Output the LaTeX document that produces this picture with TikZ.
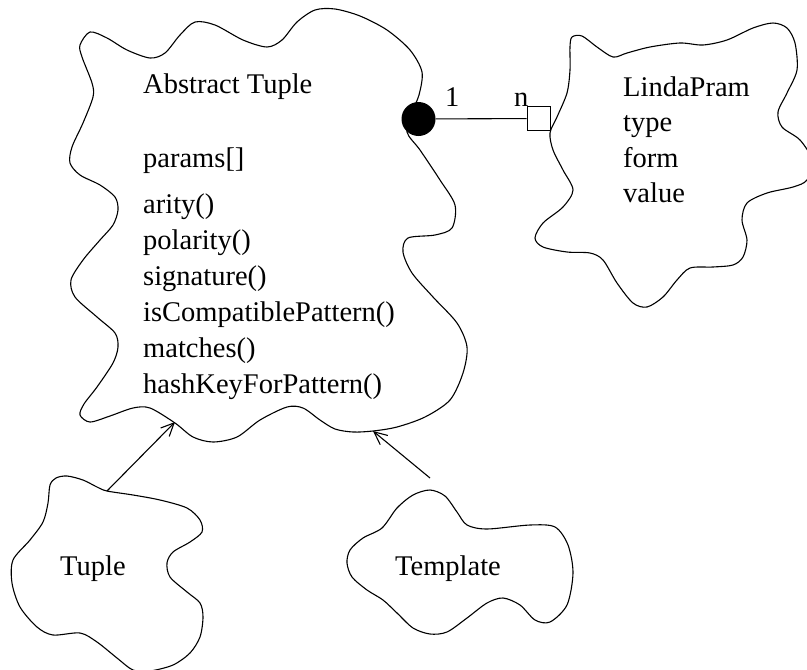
\documentclass[tikz,border=0pt]{standalone}
\usepackage{fontspec}
\setmainfont{Liberation Serif}
\usetikzlibrary{arrows.meta}
\begin{document}
\begin{tikzpicture}[x=1pt,y=-1pt,
  outline/.style={draw=black,line width=1.1pt},
  lbl/.style={anchor=base west,inner sep=0pt,font=\fontsize{28.5}{34}\selectfont},
  inherit/.style={draw,line width=1.1pt,-{Straight Barb[length=13pt,width=12pt]}},
  conn/.style={draw,line width=1.1pt}]
\fill[white] (0,0) rectangle (807,670);
\useasboundingbox (0,0) rectangle (807,670);

% Abstract Tuple cloud
\draw[outline] plot[smooth cycle] coordinates {
(80,45) (90,32) (107,38) (127,50) (150,58) (165,53) (180,35) (195,22) (215,25)
(243,40) (267,47) (282,40) (297,22) (315,10) (335,9) (360,16) (387,30) (410,50)
(422,72) (419,95) (412,112) (407,132) (420,150) (440,180) (455,205) (452,228)
(435,235) (408,238) (403,252) (412,273) (433,297) (457,323) (467,347) (463,373)
(450,400) (425,417) (397,427) (373,431) (353,432) (335,429) (320,420) (303,408)
(287,407) (260,420) (237,437) (213,442) (193,437) (175,423) (150,408) (133,408)
(110,416) (90,422) (80,415) (84,404) (97,387) (113,363) (118,347) (115,333)
(97,317) (75,297) (71,280) (83,260) (100,240) (113,225) (118,210) (115,197)
(100,185) (80,175) (70,163) (72,147) (83,123) (93,97) (92,83) (82,57)};

% LindaPram cloud
\draw[outline] plot[smooth cycle] coordinates {
(572,37) (582,36) (597,47) (613,57) (627,53) (650,47) (680,43) (703,45) (727,40)
(753,28) (773,23) (787,28) (795,43) (797,70) (787,93) (778,112) (782,127) (800,140)
(812,160) (807,180) (793,187) (767,193) (747,203) (742,220) (747,240) (743,257)
(733,265) (713,267) (690,268) (677,280) (663,297) (647,307) (633,303) (617,283)
(603,260) (590,253) (567,252) (543,247) (535,238) (543,223) (563,207) (573,190)
(563,170) (553,150) (550,133) (557,117) (567,93) (570,70) (570,47)};

% Tuple cloud
\draw[outline] plot[smooth cycle] coordinates {
(50,485) (56,478) (67,476) (83,480) (97,487) (107,491) (133,495) (160,500) (187,508)
(200,520) (202,532) (190,542) (173,552) (167,563) (170,577) (187,592) (200,603)
(203,617) (200,637) (190,653) (173,665) (150,671) (133,670) (117,658) (97,642)
(80,633) (53,635) (37,627) (20,607) (12,583) (13,560) (30,540) (43,522) (48,503)};

% Template cloud
\draw[outline] plot[smooth cycle] coordinates {
(430,490) (445,496) (457,512) (467,525) (487,529) (530,525) (555,527) (568,545)
(573,573) (567,605) (550,622) (535,620) (520,605) (503,598) (487,603) (467,618)
(447,632) (430,634) (413,628) (397,613) (383,600) (367,590) (352,577) (347,563)
(350,550) (363,538) (382,528) (397,508) (413,495)};

% texts
\node[lbl] (absname) at (143,93) {Abstract Tuple};
\node[lbl] (params) at (143,167) {params[]};
\foreach \t [count=\i from 0] in {arity(),polarity(),signature(),isCompatiblePattern(),matches(),hashKeyForPattern()}
  \node[lbl] (meth\i) at (143,213+36*\i) {\t};
\foreach \t [count=\i from 0] in {LindaPram,type,form,value}
  \node[lbl] (lp\i) at (623,96+35.5*\i) {\t};
\node[lbl] (tuple) at (60,575) {Tuple};
\node[lbl] (template) at (395,575) {Template};

% association
\node[circle,fill=black,minimum size=34pt,inner sep=0pt] (one) at (418.5,119) {};
\node[draw,line width=1.1pt,rectangle,minimum size=23.5pt,inner sep=0pt] (many) at (539,118.5) {};
\draw[conn] (one) -- (many);
\node[lbl] (mult1) at (445,106) {1};
\node[lbl] (multn) at (514,106) {n};

% inheritance
\coordinate (tupTop) at (107,491);
\coordinate (absBotL) at (175,422);
\coordinate (tmpTop) at (430,478);
\coordinate (absBotR) at (373,431);
\draw[inherit] (tupTop) -- (absBotL);
\draw[inherit] (tmpTop) -- (absBotR);
\end{tikzpicture}
\end{document}
